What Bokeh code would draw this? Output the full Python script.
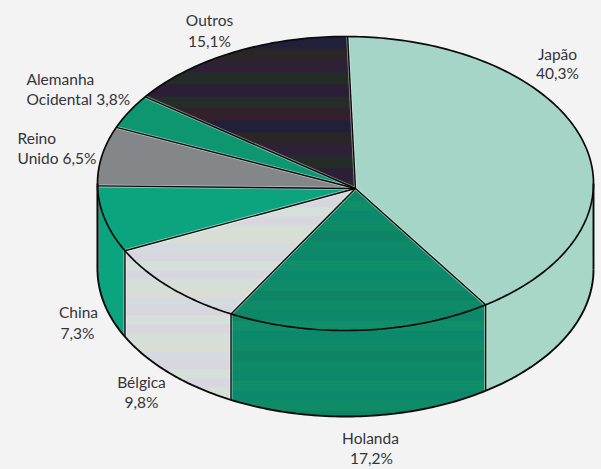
import math
from bokeh.plotting import figure
from bokeh.models import ColumnDataSource, Range1d
from bokeh.core.properties import value
from bokeh.embed import file_html
from bokeh.resources import INLINE

categories = ["Japão", "Holanda", "Bélgica", "China", "Reino Unido", "Alemanha Ocidental", "Outros"]
shares = [40.3, 17.2, 9.8, 7.3, 6.5, 3.8, 15.1]
colors = ["#A5D5C6", "#0F8A68", "#D6DDD9", "#0CA47F", "#84878A", "#0E9670", "#2A2030"]
side_colors = ["#A8D7C7", "#0F8C69", "#D6DDD9", "#0CA47F", "#84878A", "#0E9670", "#2A2030"]
label_lines = [
    ["Japão", "40,3%"],
    ["Holanda", "17,2%"],
    ["Bélgica", "9,8%"],
    ["China", "7,3%"],
    ["Reino", "Unido 6,5%"],
    ["Alemanha", "Ocidental 3,8%"],
    ["Outros", "15,1%"],
]

# --- layout (page pixels) ---
W, H = 601, 469
OFF = 0
CX, CY, RX, RY, DEPTH = 345, 183, 248, 147, 86
HUB = (355, 188)
START = 89.5
PAPER = "#F3F3F3"
INK = "#34343A"
FONT = "Lato"
FS = "15.5px"
TEXT_DY = -8
label_pos = [
    ("center", [(557, 61), (557, 80)]),
    ("center", [(370, 445), (371, 465)]),
    ("center", [(141, 389), (141, 409)]),
    ("center", [(78, 319), (77, 340)]),
    ("left", [(17, 145), (17, 165)]),
    ("left", [(26, 86), (26, 106)]),
    ("center", [(209, 27), (209, 48)]),
]
# scanned-print colour banding, per slice
band_cycles = {
    1: (10, ["#0F8A68", "#0C8767", "#108E6A", "#0C896C", "#0F8C67", "#0D8565"]),
    2: (9, ["#D8D7DF", "#D5DFD8", "#DADDD4", "#D4DADF", "#D8D6DD", "#D5E0DA"]),
    6: (12, ["#2A1F36", "#262C2A", "#32202A", "#20203A", "#2A2628", "#2E2036", "#232C26"]),
}


def rim(t, drop=0.0):
    a = math.radians(t)
    return (CX + RX * math.cos(a), CY - RY * math.sin(a) + drop)


def arc(t0, t1, drop=0.0):
    n = max(2, int(abs(t1 - t0)) + 2)
    return [rim(t0 + (t1 - t0) * i / (n - 1), drop) for i in range(n)]


def clip_half(poly, y, keep_below):
    out = []
    for i, a in enumerate(poly):
        b = poly[(i + 1) % len(poly)]
        ina = a[1] >= y if keep_below else a[1] <= y
        inb = b[1] >= y if keep_below else b[1] <= y
        if ina:
            out.append(a)
        if ina != inb:
            f = (y - a[1]) / (b[1] - a[1])
            out.append((a[0] + f * (b[0] - a[0]), y))
    return out


def add_bands(poly, band, store):
    step, cycle = band
    ys = [q[1] for q in poly]
    y = min(ys)
    k = int(min(ys) // step)
    while y < max(ys):
        y2 = (k + 1) * step
        piece = clip_half(clip_half(poly, y, True), y2 + 0.6, False)
        if len(piece) > 2:
            store["xs"].append([q[0] for q in piece])
            store["ys"].append([q[1] for q in piece])
            store["c"].append(cycle[k % len(cycle)])
        y = y2
        k += 1


p = figure(width=W, height=H, output_backend="svg", toolbar_location=None,
           x_range=Range1d(OFF, OFF + W), y_range=Range1d(OFF + H, OFF),
           background_fill_color=PAPER, border_fill_color=PAPER, outline_line_color=None,
           min_border=0)
p.axis.visible = False
p.grid.visible = False

edges = [START]
for s in shares:
    edges.append(edges[-1] - s * 3.6)

top = {"xs": [], "ys": [], "c": []}
side = {"xs": [], "ys": [], "c": []}
bands = {"xs": [], "ys": [], "c": []}

for i in range(len(shares)):
    t0, t1 = edges[i], edges[i + 1]
    a = arc(t0, t1)
    poly = [HUB] + a
    top["xs"].append([q[0] for q in poly])
    top["ys"].append([q[1] for q in poly])
    top["c"].append(colors[i])
    side_poly = None
    lo, hi = max(t1, -180.0), min(t0, 0.0)
    if lo < hi:
        wall = arc(hi, lo) + arc(lo, hi, DEPTH)
        side["xs"].append([q[0] for q in wall])
        side["ys"].append([q[1] for q in wall])
        side["c"].append(side_colors[i])
        side_poly = wall
    if i in band_cycles:
        add_bands(poly, band_cycles[i], bands)
        if side_poly:
            add_bands(side_poly, band_cycles[i], bands)

p.patches("xs", "ys", source=ColumnDataSource(side), fill_color="c", line_color=None)
p.patches("xs", "ys", source=ColumnDataSource(top), fill_color="c", line_color=None)
p.patches("xs", "ys", source=ColumnDataSource(bands), fill_color="c", line_color=None)

div_x, div_y = [], []
for t in edges[:-1]:
    q = rim(t)
    div_x.append([HUB[0], q[0]])
    div_y.append([HUB[1], q[1]])
    tn = ((t + 180) % 360) - 180
    if -180 < tn < 0:
        b = rim(t, DEPTH)
        div_x.append([q[0], b[0]])
        div_y.append([q[1], b[1]])
p.multi_line(div_x, div_y, line_color="#FFFFFF", line_width=3.0, line_alpha=0.5)
p.multi_line(div_x, div_y, line_color="#0A0A0A", line_width=1.4)

top_rim = arc(0, 360)
low = arc(-180, 0, DEPTH)
p.line([q[0] for q in top_rim], [q[1] for q in top_rim], line_color="#0A0A0A", line_width=1.7)
p.line([q[0] for q in low], [q[1] for q in low], line_color="#0A0A0A", line_width=1.9)
for t in (0, 180):
    q, b = rim(t), rim(t, DEPTH)
    p.line([q[0], b[0]], [q[1], b[1]], line_color="#0A0A0A", line_width=1.9)

for lines, (align, pos) in zip(label_lines, label_pos):
    for s, (x, y) in zip(lines, pos):
        p.text([x], [y + TEXT_DY], text=[s], text_font=value(FONT), text_font_size=FS,
               text_color=INK, text_align=align, text_baseline="alphabetic")

html = file_html(p, INLINE)
html = html.replace("</head>", "<style>html,body{background:%s}</style></head>" % PAPER)
open("out.html", "w").write(html)
